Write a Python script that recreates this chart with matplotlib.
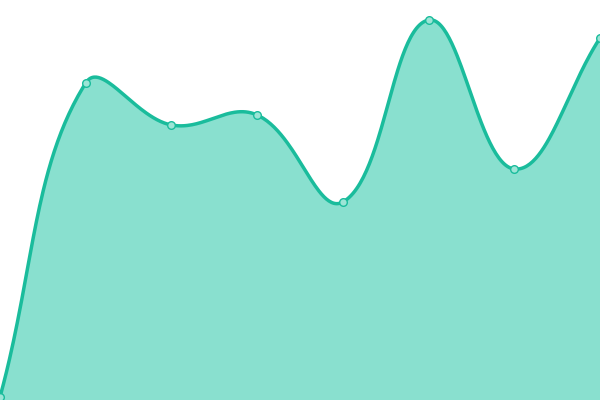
import numpy as np
import matplotlib
matplotlib.use("Agg")
import matplotlib.pyplot as plt

# Werte der Reihe (Achsen sind im Bild ausgeblendet)
labels = ["1", "2", "3", "4", "5", "6", "7", "8"]
werte = [3, 317, 275, 285, 198, 380, 231, 362]

linienfarbe = "#1abc9c"
flaechenfarbe = "#89e0cf"
punktfarbe = "#9de5d6"
spannung = 0.4


def kontrollpunkte(p, t):
    # Spline wie bei Chart.js (tension), in Pixelkoordinaten
    n = len(p)
    vor = np.zeros_like(p)
    nach = np.zeros_like(p)
    for i in range(n):
        prev = p[i - 1] if i > 0 else p[i]
        nxt = p[i + 1] if i < n - 1 else p[i]
        d01 = np.hypot(*(p[i] - prev))
        d12 = np.hypot(*(nxt - p[i]))
        s = d01 + d12
        s01 = d01 / s if s else 0
        s12 = d12 / s if s else 0
        vor[i] = p[i] - t * s01 * (nxt - prev)
        nach[i] = p[i] + t * s12 * (nxt - prev)
    return vor, nach


fig = plt.figure(figsize=(6, 4), dpi=100)
ax = fig.add_axes([0, 0, 1, 1])
ax.set_xlim(0, len(werte) - 1)
ax.set_ylim(0, 400)
ax.axis("off")

x = np.arange(len(werte))
px = ax.transData.transform(np.column_stack([x, werte]))
vor, nach = kontrollpunkte(px, spannung)
# Kontrollpunkte auf den Zeichenbereich begrenzen
x0, y0, x1, y1 = ax.bbox.extents
for c in (vor, nach):
    c[:, 0] = np.clip(c[:, 0], x0, x1)
    c[:, 1] = np.clip(c[:, 1], y0, y1)

kurve = []
s = np.linspace(0, 1, 60)[:, None]
for i in range(len(px) - 1):
    a, b, c, d = px[i], nach[i], vor[i + 1], px[i + 1]
    seg = (1 - s) ** 3 * a + 3 * (1 - s) ** 2 * s * b + 3 * (1 - s) * s ** 2 * c + s ** 3 * d
    kurve.append(seg if i == 0 else seg[1:])
kurve = ax.transData.inverted().transform(np.vstack(kurve))

ax.fill_between(kurve[:, 0], kurve[:, 1], 0, color=flaechenfarbe, linewidth=0)
ax.plot(kurve[:, 0], kurve[:, 1], color=linienfarbe, linewidth=2.5, solid_capstyle="round")
ax.plot(x, werte, "o", markersize=5.5, markerfacecolor=punktfarbe,
        markeredgecolor=linienfarbe, markeredgewidth=1, clip_on=False)

fig.savefig("out.png", dpi=100)
